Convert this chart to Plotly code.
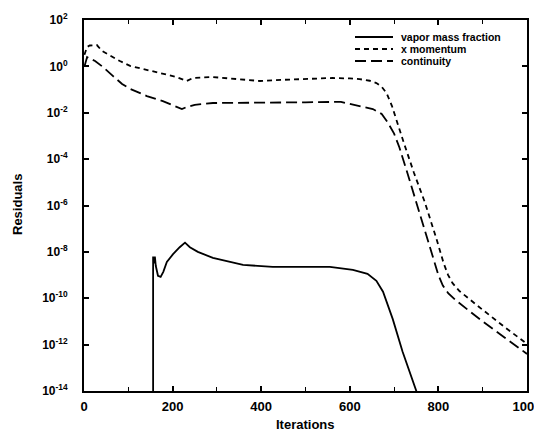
import plotly.graph_objects as go

# ---- data (iteration, log10 residual) ----
xmom_iter = [1, 7, 13, 29, 41, 59, 81, 104, 142, 178, 209, 232, 246, 291, 340, 397, 450, 487, 530, 561, 600, 622, 645, 660, 672, 683, 695, 708, 722, 745, 769, 795, 812, 822, 832, 848, 870, 900, 950, 1000]
xmom_log = [0.5, 0.84, 0.9, 0.92, 0.66, 0.45, 0.23, 0.02, -0.16, -0.3, -0.46, -0.63, -0.5, -0.46, -0.55, -0.63, -0.58, -0.55, -0.52, -0.5, -0.52, -0.55, -0.62, -0.72, -0.88, -1.15, -1.7, -2.5, -3.3, -4.6, -5.84, -7.4, -8.5, -9.0, -9.35, -9.7, -10.05, -10.5, -11.25, -11.97]

cont_iter = [1, 7, 25, 43, 65, 86, 104, 142, 178, 209, 221, 232, 250, 291, 397, 500, 580, 622, 652, 672, 685, 700, 712, 730, 750, 775, 790, 800, 810, 822, 840, 870, 900, 950, 1000]
cont_log = [0.0, 0.4, 0.23, -0.03, -0.41, -0.76, -0.97, -1.28, -1.5, -1.75, -1.84, -1.75, -1.66, -1.58, -1.58, -1.55, -1.53, -1.7, -1.84, -2.05, -2.4, -2.9, -3.5, -4.6, -5.84, -7.4, -8.4, -9.0, -9.45, -9.78, -10.1, -10.55, -11.0, -11.7, -12.4]

vap_iter = [156, 156, 158, 160, 162, 167, 173, 179, 187, 201, 216, 228, 239, 257, 291, 322, 359, 426, 502, 555, 607, 640, 660, 675, 697, 719, 752]
vap_log = [-15.0, -8.2, -8.5, -8.2, -8.6, -9.03, -9.08, -8.86, -8.43, -8.1, -7.8, -7.6, -7.8, -8.0, -8.26, -8.39, -8.56, -8.65, -8.65, -8.65, -8.78, -8.95, -9.25, -9.72, -10.9, -12.3, -14.1]

series_names = ["vapor mass fraction", "x momentum", "continuity"]
ytick_exp = [2, 0, -2, -4, -6, -8, -10, -12, -14]
xtick_vals = [0, 200, 400, 600, 800, 1000]

to_val = lambda logs: [10 ** v for v in logs]

font_family = "Liberation Sans, Arial, sans-serif"
dashes = ["solid", "5px,4px", "11px,5px"]

fig = go.Figure()
for name, xs, ys, dash in zip(series_names, [vap_iter, xmom_iter, cont_iter],
                              [vap_log, xmom_log, cont_log], dashes):
    fig.add_trace(go.Scatter(x=xs, y=to_val(ys), mode="lines", name=name,
                             line=dict(color="black", width=1.8, dash=dash)))

# page has an 8px body margin: figure is 534x430, plot area lands at page x 84..527, y 20..391
OFF = 8
W, H = 534, 430
L, R, T, B = 76, 15, 12, 47
pw, ph = W - L - R, H - T - B
px = lambda x: (x - OFF - L) / pw      # page pixel -> paper coord
py = lambda y: 1 - (y - OFF - T) / ph
shapes, annots = [], []
for i, (name, dash) in enumerate(zip(series_names, dashes)):
    yy = 37 + 12 * i
    shapes.append(dict(type="line", xref="paper", yref="paper", x0=px(355), x1=px(393),
                       y0=py(yy), y1=py(yy), line=dict(color="black", width=1.8, dash=dash)))
    annots.append(dict(text=name, xref="paper", yref="paper", x=px(399), y=py(yy),
                       xanchor="left", yanchor="middle", showarrow=False,
                       font=dict(size=10.5, family=font_family, weight="bold", color="black")))

annots.append(dict(text="Residuals", xref="paper", yref="paper", x=px(18), y=py(205),
                   xanchor="center", yanchor="middle", textangle=-90, showarrow=False,
                   font=dict(size=13, family=font_family, weight="bold", color="black")))
annots.append(dict(text="Iterations", xref="paper", yref="paper", x=px(305), y=py(424),
                   xanchor="center", yanchor="middle", showarrow=False,
                   font=dict(size=13, family=font_family, weight="bold", color="black")))

fig.update_layout(
    width=W, height=H,
    margin=dict(l=L, r=R, t=T, b=B),
    paper_bgcolor="white", plot_bgcolor="white",
    font=dict(family=font_family, color="black", size=12, weight="bold"),
    showlegend=False,
    shapes=shapes, annotations=annots,
)
fig.update_xaxes(
    range=[0, 1000], tickmode="array", tickvals=xtick_vals, automargin=False,
    ticks="inside", ticklen=5, tickwidth=1.5, tickcolor="black",
    minor=dict(dtick=100, ticks="inside", ticklen=4, tickwidth=1.2, tickcolor="black"),
    showline=True, linecolor="black", linewidth=2, mirror="ticks",
    showgrid=False, zeroline=False, ticklabelstandoff=2,
    tickfont=dict(size=13, family=font_family, weight="bold"),
)
fig.update_yaxes(
    type="log", range=[-14, 2], tickmode="array", automargin=False,
    tickvals=[10 ** e for e in ytick_exp],
    ticktext=[f"10<sup>{e}</sup>" for e in ytick_exp],
    ticks="inside", ticklen=5, tickwidth=1.5, tickcolor="black",
    showline=True, linecolor="black", linewidth=2, mirror="ticks",
    showgrid=False, zeroline=False, ticklabelstandoff=12,
    tickfont=dict(size=12, family=font_family, weight="bold"),
)

fig.write_html("out.html")
